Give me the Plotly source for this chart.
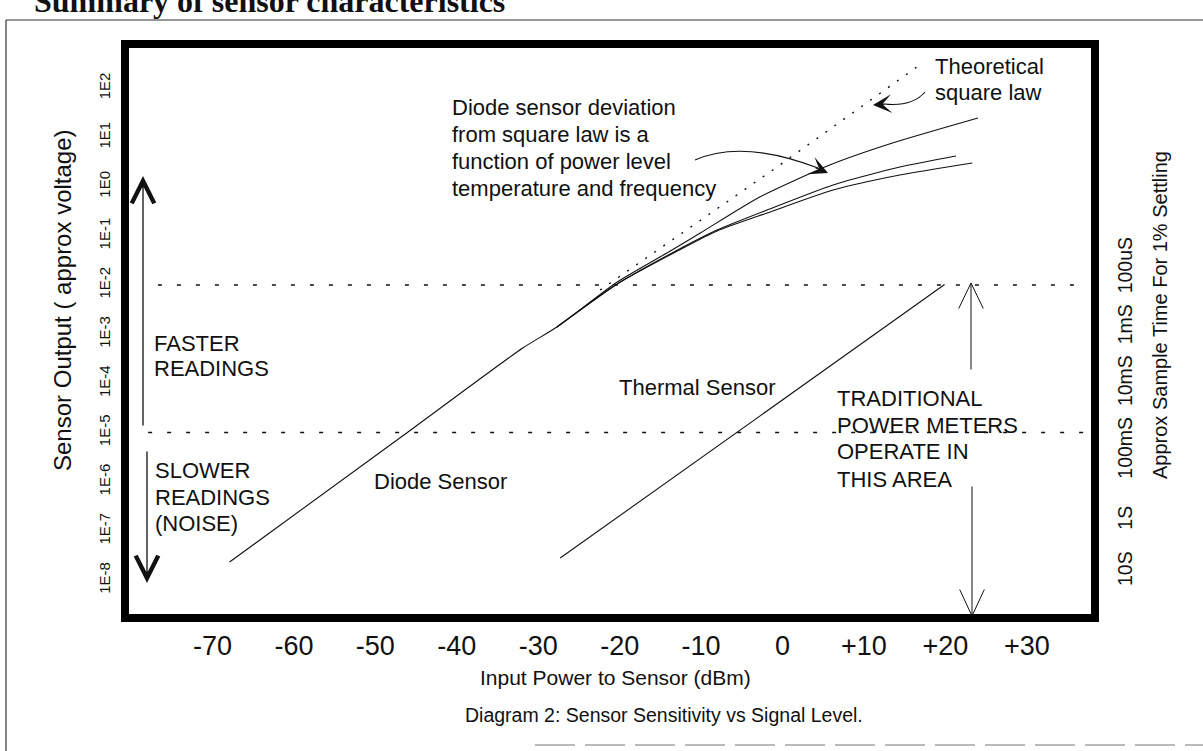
import plotly.graph_objects as go

# ---------------- data ----------------
x_ticks = [-70, -60, -50, -40, -30, -20, -10, 0, 10, 20, 30]
x_ticktext = ["-70", "-60", "-50", "-40", "-30", "-20", "-10", "0", "+10", "+20", "+30"]
y_ticks = [1e2, 1e1, 1e0, 1e-1, 1e-2, 1e-3, 1e-4, 1e-5, 1e-6, 1e-7, 1e-8]
y_ticktext = ["1E2", "1E1", "1E0", "1E-1", "1E-2", "1E-3", "1E-4", "1E-5", "1E-6", "1E-7", "1E-8"]

# diode sensor, upper branch (full line from low power)
diode_hi_dbm = [-67.9, -47.0, -31.9, -27.7, -20.3, -14.2, -10.1, -2.8, 5.8, 13.5, 24.0]
diode_hi_v = [2.34e-8, 7.76e-6, 5.25e-4, 1.40e-3, 1.15e-2, 0.0447, 0.114, 0.615, 2.75, 7.69, 24.8]
# diode sensor, middle branch
diode_mid_dbm = [-27.7, -20.3, -12.2, -8.05, -1.9, 6.2, 14.4, 21.3]
diode_mid_v = [1.40e-3, 1.05e-2, 0.0591, 0.131, 0.334, 1.08, 2.50, 4.19]
# diode sensor, lower branch
diode_lo_dbm = [-27.7, -20.3, -12.2, -8.05, -1.9, 6.2, 14.4, 23.3]
diode_lo_v = [1.40e-3, 1.05e-2, 0.0565, 0.125, 0.290, 0.853, 1.72, 3.02]
# theoretical square law (dotted)
square_dbm = [-22.4, -1.2, 16.5]
square_v = [7.91e-3, 2.17, 270.0]
# thermal sensor
thermal_dbm = [-27.3, 19.9]
thermal_v = [2.82e-8, 1.02e-2]
# reading-speed boundaries (dotted horizontals)
fast_dbm = [-76.7, 37.3]
fast_v = [1e-2, 1e-2]
slow_dbm = [-77.9, 37.3]
slow_v = [1e-5, 1e-5]

# ---------------- layout geometry ----------------
W, H = 1203, 751
L, R, T, B = 125, 1095, 44, 618


def px(x):
    return (x - L) / (R - L)


def py(y):
    return (B - y) / (B - T)


FONT = "Liberation Sans, Arial, Helvetica, sans-serif"
SERIF = "Liberation Serif, Times New Roman, serif"
INK = "#111111"

fig = go.Figure()

line_style = dict(color=INK, width=1.1)
for xs, ys in [(diode_hi_dbm, diode_hi_v), (diode_mid_dbm, diode_mid_v), (diode_lo_dbm, diode_lo_v)]:
    fig.add_trace(go.Scatter(x=xs, y=ys, mode="lines",
                             line=dict(shape="spline", smoothing=0.6, **line_style)))
fig.add_trace(go.Scatter(x=square_dbm, y=square_v, mode="lines",
                         line=dict(color=INK, width=1.4, dash="2px,9px")))
fig.add_trace(go.Scatter(x=thermal_dbm, y=thermal_v, mode="lines", line=line_style))
for xs, ys in [(fast_dbm, fast_v), (slow_dbm, slow_v)]:
    fig.add_trace(go.Scatter(x=xs, y=ys, mode="lines",
                             line=dict(color=INK, width=1.5, dash="4px,15px")))

shapes = []
# thick frame
shapes.append(dict(type="rect", xref="paper", yref="paper", x0=0, x1=1, y0=0, y1=1,
                   line=dict(color="black", width=8)))
# outer page border (left + top)
shapes.append(dict(type="line", xref="paper", yref="paper", x0=px(6), x1=px(6),
                   y0=py(20), y1=py(760), line=dict(color="#333", width=1.2)))
shapes.append(dict(type="line", xref="paper", yref="paper", x0=px(6), x1=px(1210),
                   y0=py(20), y1=py(20), line=dict(color="#333", width=1.2)))
# faint scan dashes along the bottom
shapes.append(dict(type="line", xref="paper", yref="paper", x0=px(535), x1=px(1203),
                   y0=py(745), y1=py(745), line=dict(color="#777", width=1, dash="40px,10px")))
# curved arrow shafts
shapes.append(dict(type="path", xref="paper", yref="paper",
                   path=f"M {px(695)},{py(160)} Q {px(742)},{py(139)} {px(818)},{py(168)}",
                   line=dict(color=INK, width=1.1)))
shapes.append(dict(type="path", xref="paper", yref="paper",
                   path=f"M {px(925)},{py(92)} Q {px(912)},{py(107)} {px(884)},{py(104)}",
                   line=dict(color=INK, width=1.1)))

ann = []


def text(x, y, s, size=22, anchor="left", angle=0, yanchor="middle", family=FONT):
    ann.append(dict(x=px(x), y=py(y), xref="paper", yref="paper", text=s, showarrow=False,
                    xanchor=anchor, yanchor=yanchor, textangle=angle,
                    font=dict(family=family, size=size, color=INK)))


def arrow(xt, yt, dx, dy, head=5, size=3.0, width=1.1):
    ann.append(dict(x=px(xt), y=py(yt), xref="paper", yref="paper", text="",
                    showarrow=True, ax=dx, ay=dy, arrowhead=head, arrowsize=size,
                    arrowwidth=width, arrowcolor=INK, standoff=0))


text(32, 21, "<b>Summary of sensor characteristics</b>", size=32, yanchor="bottom",
     family=SERIF)

text(933, 66, "Theoretical")
text(933, 93, "square law")
for i, s in enumerate(["Diode sensor deviation", "from square law is a",
                       "function of power level", "temperature and frequency"]):
    text(450, 108 + 26.7 * i, s)
text(152, 343, "FASTER")
text(152, 368, "READINGS")
text(153, 470, "SLOWER")
text(153, 497, "READINGS")
text(153, 523, "(NOISE)")
text(440, 482, "Diode Sensor", anchor="center")
text(617, 387, "Thermal Sensor")
for i, s in enumerate(["TRADITIONAL", "POWER METERS", "OPERATE IN", "THIS AREA"]):
    text(835, 398 + 27 * i, s)

text(615, 677, "Input Power to Sensor (dBm)", 21, anchor="center")
text(664, 715, "Diagram 2: Sensor Sensitivity vs Signal Level.", 19.5, anchor="center")
text(62, 300, "Sensor Output ( approx voltage)", 24, anchor="center", angle=-90)
nb = "&nbsp;"
text(1125, 412,
     "10S" + nb * 4 + "1S" + nb * 5 + "100mS" + nb * 2 + "10mS" + nb * 2 + "1mS" + nb * 2 + "100uS",
     19.5, anchor="center", angle=-90)
text(1160, 315, "Approx Sample Time For 1% Settling", 20, anchor="center", angle=-90)

# left double arrow (bold barbed heads)
arrow(143, 176, 0, 251, head=5, size=3.4, width=1.3)
arrow(147, 583, 0, -133, head=5, size=3.4, width=1.3)
# right double arrow: thin shafts with open V heads
arrow(971, 283, 0, 88, head=0, width=1.0)
arrow(971, 283, -13, 27, head=0, width=1.0)
arrow(971, 283, 13, 27, head=0, width=1.0)
arrow(972, 616, 0, -131, head=0, width=1.0)
arrow(972, 616, -13, -28, head=0, width=1.0)
arrow(972, 616, 13, -28, head=0, width=1.0)
# heads of curved arrows
arrow(828, 173, -14, -6, head=3, size=2.6, width=1.2)
arrow(873, 105, 13, -1, head=3, size=2.6, width=1.2)

fig.update_layout(
    width=W, height=H,
    margin=dict(l=L, r=W - R, t=T, b=H - B, pad=0),
    paper_bgcolor="white", plot_bgcolor="white",
    showlegend=False,
    shapes=shapes, annotations=ann,
    font=dict(family=FONT, color=INK),
    xaxis=dict(range=[-80.74, 38.37], tickvals=x_ticks, ticktext=x_ticktext,
               tickfont=dict(size=27, family=FONT, color=INK),
               showgrid=False, zeroline=False, showline=False,
               ticks="outside", ticklen=4, tickcolor="rgba(0,0,0,0)", fixedrange=True),
    yaxis=dict(type="log", range=[-8.768, 2.898], tickvals=y_ticks, ticktext=y_ticktext,
               tickangle=-90, tickfont=dict(size=15, family=FONT, color=INK),
               showgrid=False, zeroline=False, showline=False,
               ticks="outside", ticklen=8, tickcolor="rgba(0,0,0,0)", fixedrange=True),
)

fig.write_html("out.html")
